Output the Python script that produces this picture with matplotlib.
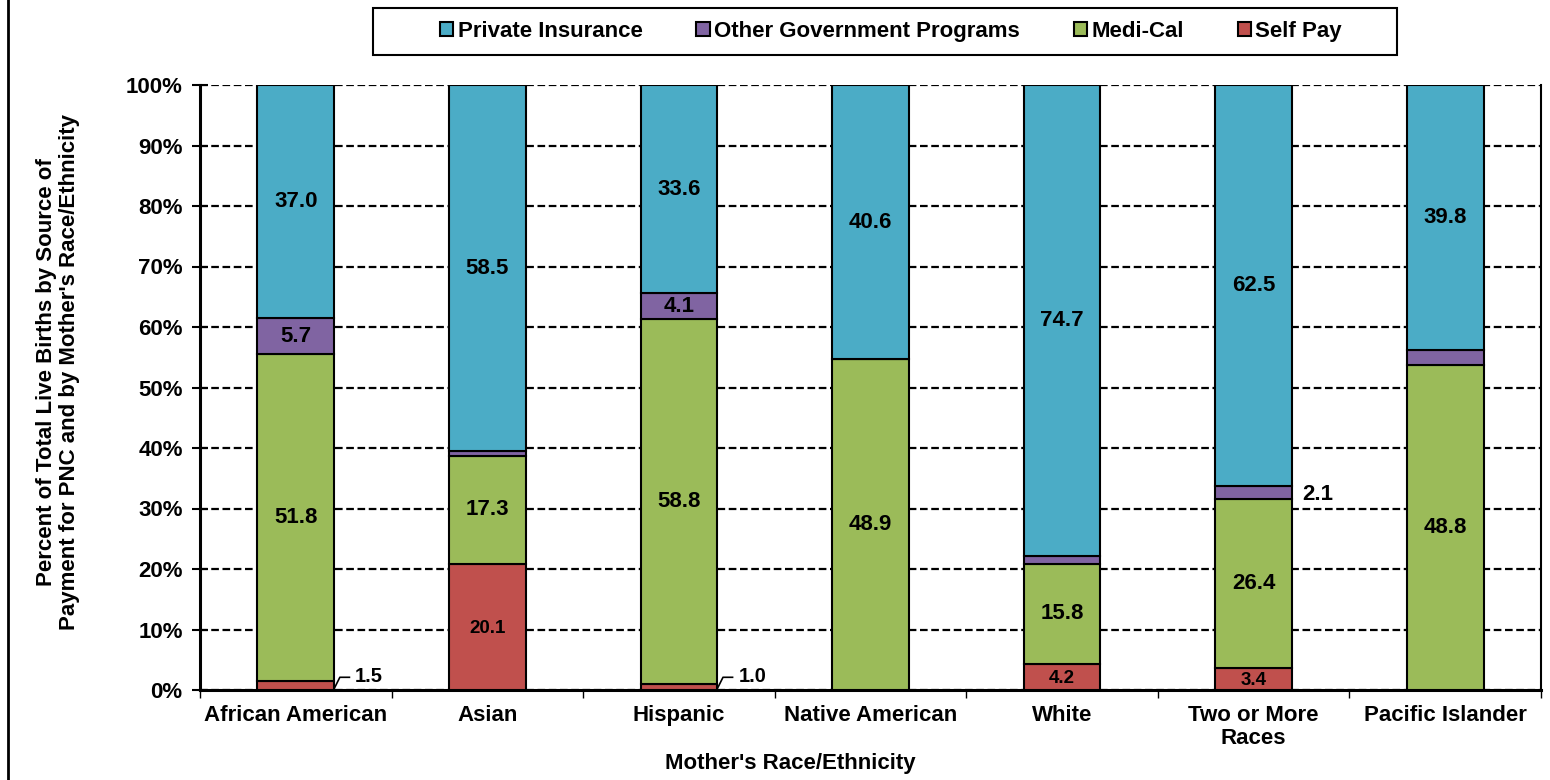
import matplotlib.pyplot as plt
import numpy as np
from matplotlib.lines import Line2D
from matplotlib.patches import Rectangle

plt.rcParams['font.family'] = ['Liberation Sans', 'DejaVu Sans']
plt.rcParams['font.weight'] = 'bold'
plt.rcParams['lines.scale_dashes'] = False

# data (percent of births, bars are scaled to 100%)
categories = ['African American', 'Asian', 'Hispanic', 'Native American',
              'White', 'Two or More\nRaces', 'Pacific Islander']
self_pay = [1.5, 20.1, 1.0, 0.0, 4.2, 3.4, 0.0]
medi_cal = [51.8, 17.3, 58.8, 48.9, 15.8, 26.4, 48.8]
other_gov = [5.7, 0.7, 4.1, 0.0, 1.3, 2.1, 2.3]
private = [37.0, 58.5, 33.6, 40.6, 74.7, 62.5, 39.8]

self_labels = ['1.5', '20.1', '1.0', '', '4.2', '3.4', '']
medi_labels = ['51.8', '17.3', '58.8', '48.9', '15.8', '26.4', '48.8']
other_labels = ['5.7', '', '4.1', '', '', '2.1', '']
private_labels = ['37.0', '58.5', '33.6', '40.6', '74.7', '62.5', '39.8']

series = [
    ('Self Pay', self_pay, self_labels, '#C0504D'),
    ('Medi-Cal', medi_cal, medi_labels, '#9BBB59'),
    ('Other Government Programs', other_gov, other_labels, '#8064A2'),
    ('Private Insurance', private, private_labels, '#4BACC6'),
]

FS = 16
W, H = 1550, 780
fig = plt.figure(figsize=(W / 100, H / 100), dpi=100)
ax = fig.add_axes([200 / W, 1 - 690 / H, 1341 / W, 605 / H])

x = np.arange(len(categories))
totals = np.sum([s[1] for s in series], axis=0)
bottom = np.zeros(len(categories))
bar_w = 0.4
handles = {}

for name, vals, labels, color in series:
    pct = np.array(vals) / totals * 100
    bars = ax.bar(x, pct, bar_w, bottom=bottom, color=color, edgecolor='black',
                  linewidth=1.5, zorder=3, label=name)
    handles[name] = bars
    for i, lab in enumerate(labels):
        if not lab:
            continue
        mid = bottom[i] + pct[i] / 2
        if name == 'Self Pay' and pct[i] < 2:
            # small value, label with a leader line
            xr = x[i] + bar_w / 2
            ax.plot([xr, xr + 0.03, xr + 0.08], [0.2, 2.1, 2.1], color='black',
                    lw=1.2, zorder=4, clip_on=False)
            ax.text(xr + 0.11, 2.2, lab, ha='left', va='center', fontsize=14.5,
                    fontweight='bold', zorder=5)
        elif name == 'Other Government Programs' and pct[i] < 3:
            ax.text(x[i] + 0.335, mid - 0.4, lab, ha='center', va='center',
                    fontsize=FS, fontweight='bold', zorder=5)
        elif name == 'Self Pay':
            ax.text(x[i], mid - 0.3, lab, ha='center', va='center', fontsize=13.5,
                    fontweight='bold', zorder=5)
        else:
            ax.text(x[i], mid, lab, ha='center', va='center', fontsize=FS,
                    fontweight='bold', zorder=5)
    bottom += pct

ax.set_xlim(-0.5, len(categories) - 0.5)
ax.set_ylim(0, 100)
ax.set_yticks(np.arange(0, 101, 10))
ax.set_yticklabels([f'{v}%' for v in range(0, 101, 10)])
ax.set_xticks(x)
ax.set_xticklabels(categories, linespacing=1.1)
ax.set_xticks(np.arange(-0.5, len(categories), 1), minor=True)

ax.tick_params(axis='x', which='major', length=0, pad=11, labelsize=FS)
ax.tick_params(axis='x', which='minor', length=6, width=1, direction='out')
ax.tick_params(axis='y', length=11, width=1.5, direction='inout', pad=7, labelsize=FS)

ax.yaxis.grid(True, color='black', linestyle=(0, (5.5, 2.6)), linewidth=1.6, zorder=0)
ax.set_axisbelow(True)

ax.spines['top'].set_visible(False)
ax.spines['left'].set_linewidth(2.2)
ax.spines['bottom'].set_linewidth(2.2)
ax.spines['right'].set_linewidth(1.5)

fig.text(58 / W, 1 - 372 / H,
         "Percent of Total Live Births by Source of\nPayment for PNC and by Mother's Race/Ethnicity",
         rotation=90, ha='center', va='center', ma='center', fontsize=FS, fontweight='bold',
         linespacing=1.15)
fig.text(790 / W, 1 - 763 / H, "Mother's Race/Ethnicity", ha='center', va='center',
         fontsize=FS, fontweight='bold')

# legend box drawn separately so its padding matches
fig.add_artist(Rectangle((373 / W, 1 - 55 / H), 1024 / W, 47 / H, transform=fig.transFigure,
                         facecolor='white', edgecolor='black', linewidth=1.5))
order = ['Private Insurance', 'Other Government Programs', 'Medi-Cal', 'Self Pay']
leg = fig.legend([handles[n] for n in order], order, loc='center',
                 bbox_to_anchor=(891 / W, 1 - 31.5 / H), ncol=4, frameon=False,
                 fontsize=FS, handlelength=0.6, handleheight=0.6, handletextpad=0.2,
                 columnspacing=2.42)
for t in leg.get_texts():
    t.set_fontweight('bold')

# left border of the figure
fig.add_artist(Line2D([8 / W, 8 / W], [0, 1], transform=fig.transFigure, color='black', lw=2))

fig.savefig('out.png', dpi=100)
